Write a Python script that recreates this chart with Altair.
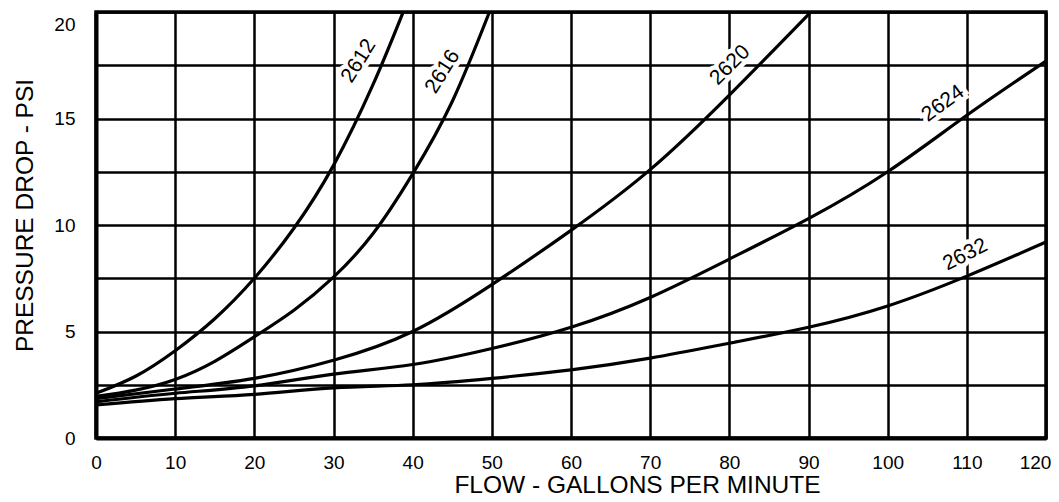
import altair as alt
import pandas as pd

# ---- data ----
flow_2612 = [0, 5, 10, 15, 20, 25, 30, 35, 38.8]
psi_2612 = [2.1, 2.9, 4.1, 5.6, 7.5, 9.85, 12.8, 16.6, 20.0]

flow_2616 = [0, 5, 10, 15, 20, 25, 30, 35, 40, 45, 49.7]
psi_2616 = [1.95, 2.25, 2.75, 3.6, 4.75, 6.0, 7.55, 9.6, 12.4, 15.8, 20.0]

flow_2620 = [0, 10, 20, 30, 40, 50, 60, 70, 80, 90.3]
psi_2620 = [1.85, 2.3, 2.8, 3.65, 5.0, 7.2, 9.75, 12.6, 16.1, 20.0]

flow_2624 = [0, 10, 20, 30, 40, 50, 60, 70, 80, 90, 100, 110, 120]
psi_2624 = [1.7, 2.1, 2.45, 3.0, 3.45, 4.2, 5.2, 6.6, 8.4, 10.3, 12.5, 15.15, 17.7]

flow_2632 = [0, 10, 20, 30, 40, 50, 60, 70, 80, 90, 100, 110, 120]
psi_2632 = [1.55, 1.85, 2.05, 2.35, 2.5, 2.8, 3.2, 3.75, 4.45, 5.2, 6.2, 7.6, 9.2]

label_names = ["2612", "2616", "2620", "2624", "2632"]
label_flow = [33.2, 43.8, 80.1, 107.0, 109.8]
label_psi = [17.7, 17.2, 17.5, 15.7, 8.6]
label_angle = [302, 302, 315, 324, 333]

x_ticks = [0, 10, 20, 30, 40, 50, 60, 70, 80, 90, 100, 110, 120]
y_ticks = [0, 2.5, 5, 7.5, 10, 12.5, 15, 17.5, 20]

# ---- build tables ----
series = {
    "2612": (flow_2612, psi_2612),
    "2616": (flow_2616, psi_2616),
    "2620": (flow_2620, psi_2620),
    "2624": (flow_2624, psi_2624),
    "2632": (flow_2632, psi_2632),
}
rows = []
for name, (fx, py) in series.items():
    for a, b in zip(fx, py):
        rows.append({"model": name, "flow": a, "psi": b})
df = pd.DataFrame(rows)

labels = pd.DataFrame({
    "model": label_names,
    "flow": label_flow,
    "psi": label_psi,
    "angle": label_angle,
})

FONT = "Liberation Sans"

x_enc = alt.X(
    "flow:Q",
    scale=alt.Scale(domain=[0, 120], nice=False, zero=True),
    axis=alt.Axis(
        values=x_ticks,
        grid=True, gridColor="black", gridWidth=2.5, gridOpacity=1,
        ticks=False, tickSize=0,
        domain=True, domainColor="black", domainWidth=4,
        labelFont=FONT, labelFontSize=19, labelColor="black",
        labelPadding=15, labelFlush=False,
        labelOffset={"condition": {"test": "datum.value == 120", "value": -11}, "value": 0},
        title="FLOW - GALLONS PER MINUTE",
        titleFont=FONT, titleFontSize=24.5, titleFontWeight="normal",
        titleColor="black", titleX=541, titleY=54,
        titleAlign="center", titleBaseline="alphabetic",
    ),
)

y_enc = alt.Y(
    "psi:Q",
    scale=alt.Scale(domain=[0, 20], nice=False, zero=True),
    axis=alt.Axis(
        values=y_ticks,
        labelExpr="datum.value % 5 == 0 ? datum.label : ''",
        grid=True, gridColor="black", gridWidth=2.5, gridOpacity=1,
        ticks=False, tickSize=0,
        domain=True, domainColor="black", domainWidth=4,
        labelFont=FONT, labelFontSize=19, labelColor="black",
        labelPadding=21, labelFlush=False,
        labelOffset={"condition": {"test": "datum.value == 20", "value": 12}, "value": 0},
        title="PRESSURE DROP - PSI",
        titleFont=FONT, titleFontSize=24.5, titleFontWeight="normal",
        titleColor="black", titleAngle=270, titleX=-64, titleY=203,
        titleAlign="center", titleBaseline="alphabetic",
    ),
)

base = alt.Chart(df)

lines = base.mark_line(
    color="black", strokeWidth=3.2, interpolate="natural", clip=True
).encode(x=x_enc, y=y_enc, detail="model:N", order="flow:Q")

halo = alt.Chart(labels).mark_text(
    font=FONT, fontSize=21, fill="white", stroke="white", strokeWidth=9,
    align="center", baseline="middle",
).encode(
    x=alt.X("flow:Q"), y=alt.Y("psi:Q"), text="model:N",
    angle=alt.Angle("angle:Q", scale=None),
)

text = alt.Chart(labels).mark_text(
    font=FONT, fontSize=21, color="black",
    align="center", baseline="middle",
).encode(
    x=alt.X("flow:Q"), y=alt.Y("psi:Q"), text="model:N",
    angle=alt.Angle("angle:Q", scale=None),
)

chart = alt.layer(halo, lines, text).properties(
    width=950,
    height=426,
    autosize=alt.AutoSizeParams(type="none"),
    padding={"left": 88, "top": 4, "right": 5, "bottom": 62},
    background="white",
).configure_view(stroke="black", strokeWidth=3.5)

chart.save("out.html", embed_options={"renderer": "svg", "actions": False})
